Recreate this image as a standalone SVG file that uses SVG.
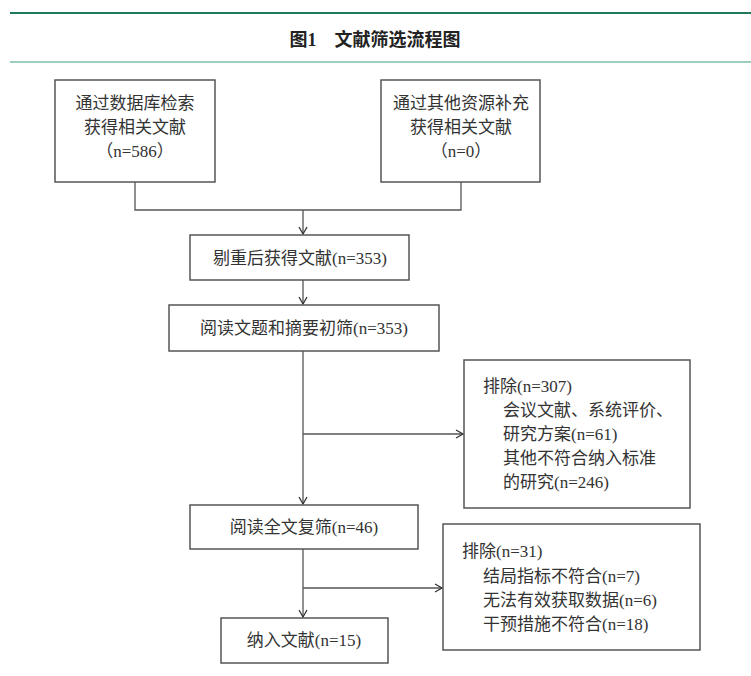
<svg xmlns="http://www.w3.org/2000/svg" width="751" height="676" viewBox="0 0 751 676">
<style>
.b{fill:#fff;stroke:#555;stroke-width:1.5}
.t{font-family:"Liberation Serif","Noto Sans CJK SC",serif;font-size:17px;fill:#333}
.c{text-anchor:middle}
.l{fill:none;stroke:#555;stroke-width:1.3}
</style>
<defs><marker id="a" markerWidth="10" markerHeight="10" refX="8" refY="5" orient="auto" markerUnits="userSpaceOnUse"><path d="M1,1 L8,5 L1,9" fill="none" stroke="#333" stroke-width="1.3"/></marker></defs>
<rect width="751" height="676" fill="#fff"/>
<line x1="10" y1="13" x2="751" y2="13" stroke="#1f7a5c" stroke-width="2"/>
<line x1="10" y1="62" x2="751" y2="62" stroke="#7cc0a4" stroke-width="1.5"/>
<text x="375" y="46" class="t c" style="font-size:18px;font-weight:bold;fill:#222">图1　文献筛选流程图</text>
<g id="connectors">
<path class="l" d="M135,182V210H461V182M303,210V234" marker-end="url(#a)"/>
<path class="l" d="M303,280V304" marker-end="url(#a)"/>
<path class="l" d="M303,351V504" marker-end="url(#a)"/>
<path class="l" d="M303,434H463" marker-end="url(#a)"/>
<path class="l" d="M303,549V617" marker-end="url(#a)"/>
<path class="l" d="M303,588H442" marker-end="url(#a)"/>
</g>
<g id="n1"><rect class="b" x="55" y="80" width="160" height="102"/><text class="t c" x="135" y="109">通过数据库检索</text><text class="t c" x="135" y="133">获得相关文献</text><text class="t c" x="135" y="157">（n=586）</text></g>
<g id="n2"><rect class="b" x="381" y="80" width="159" height="102"/><text class="t c" x="461" y="109">通过其他资源补充</text><text class="t c" x="461" y="133">获得相关文献</text><text class="t c" x="461" y="157">（n=0）</text></g>
<g id="n3"><rect class="b" x="190" y="235" width="219" height="45"/><text class="t c" x="300" y="264">剔重后获得文献(n=353)</text></g>
<g id="n4"><rect class="b" x="169" y="305" width="270" height="46"/><text class="t c" x="304" y="334">阅读文题和摘要初筛(n=353)</text></g>
<g id="n5"><rect class="b" x="464" y="360" width="226" height="148"/><text class="t" x="483" y="392">排除(n=307)</text><text class="t" x="503" y="416">会议文献、系统评价、</text><text class="t" x="503" y="440">研究方案(n=61)</text><text class="t" x="503" y="464">其他不符合纳入标准</text><text class="t" x="503" y="488">的研究(n=246)</text></g>
<g id="n6"><rect class="b" x="190" y="505" width="228" height="44"/><text class="t c" x="304" y="533">阅读全文复筛(n=46)</text></g>
<g id="n7"><rect class="b" x="443" y="524" width="257" height="126"/><text class="t" x="462" y="557">排除(n=31)</text><text class="t" x="483" y="582">结局指标不符合(n=7)</text><text class="t" x="483" y="606">无法有效获取数据(n=6)</text><text class="t" x="483" y="630">干预措施不符合(n=18)</text></g>
<g id="n8"><rect class="b" x="221" y="618" width="167" height="45"/><text class="t c" x="304" y="646">纳入文献(n=15)</text></g>
</svg>
